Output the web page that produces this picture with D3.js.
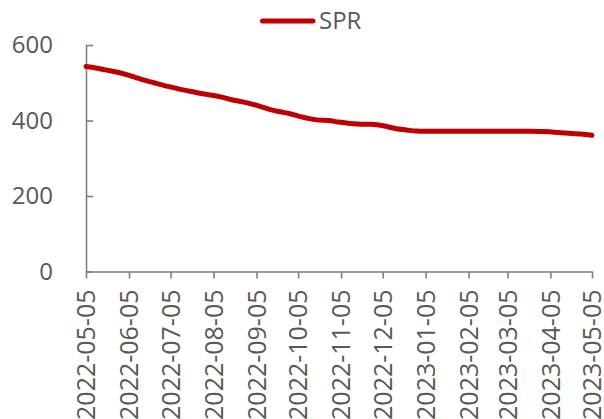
<!DOCTYPE html>
<html>
<head>
<meta charset="utf-8">
<script src="https://cdn.jsdelivr.net/npm/d3@7"></script>
<style>
  html, body { margin: 0; padding: 0; background: #fff; }
  svg { display: block; }
  svg text { font-family: "Open Sans", "Noto Sans", sans-serif; }
</style>
</head>
<body>
<svg id="chart" width="604" height="419"></svg>
<script>
// US Strategic Petroleum Reserve stock (million barrels), weekly
const seriesName = "SPR";
const dates = [
  "2022-05-05","2022-05-12","2022-05-19","2022-05-26","2022-06-02","2022-06-09","2022-06-16","2022-06-23","2022-06-30",
  "2022-07-07","2022-07-14","2022-07-21","2022-07-28","2022-08-04","2022-08-11","2022-08-18","2022-08-25",
  "2022-09-01","2022-09-08","2022-09-15","2022-09-22","2022-09-29","2022-10-06","2022-10-13","2022-10-20","2022-10-27",
  "2022-11-03","2022-11-10","2022-11-17","2022-11-24","2022-12-01","2022-12-08","2022-12-15","2022-12-22","2022-12-29",
  "2023-01-05","2023-01-12","2023-01-19","2023-01-26","2023-02-02","2023-02-09","2023-02-16","2023-02-23",
  "2023-03-02","2023-03-09","2023-03-16","2023-03-23","2023-03-30","2023-04-06","2023-04-13","2023-04-20","2023-04-27","2023-05-05"
];
const sprValues = [
  543, 539, 534, 529, 523, 515, 507, 500, 493,
  487, 481, 476, 471, 467, 462, 455, 450,
  444, 437, 429, 423, 418, 411, 405, 401, 400,
  396, 393, 391, 390, 389, 384, 378, 375, 372,
  371.5, 371.5, 371.5, 371.5, 371.5, 371.6, 371.6, 371.6,
  371.6, 371.6, 371.6, 371.2, 371.0, 369.5, 367.5, 365.5, 364, 361
];
const xTickLabels = [
  "2022-05-05","2022-06-05","2022-07-05","2022-08-05","2022-09-05","2022-10-05","2022-11-05",
  "2022-12-05","2023-01-05","2023-02-05","2023-03-05","2023-04-05","2023-05-05"
];
const yTicks = [0, 200, 400, 600];

const parse = d3.timeParse("%Y-%m-%d");
const fmt = d3.timeFormat("%Y-%m-%d");
const data = dates.map((d, i) => ({ date: parse(d), value: sprValues[i] }));

const svg = d3.select("#chart");
const margin = { left: 86, right: 12, top: 45, bottom: 147.5 };
const W = 604, H = 419;

const x = d3.scaleTime()
  .domain([parse(xTickLabels[0]), parse(xTickLabels[xTickLabels.length - 1])])
  .range([margin.left, W - margin.right]);
const y = d3.scaleLinear()
  .domain([0, 600])
  .range([H - margin.bottom, margin.top]);

const axisColor = "#7f7f7f";
const textColor = "#595959";

// y axis, ticks pointing into the plot
const gy = svg.append("g")
  .attr("transform", `translate(${margin.left},0)`)
  .call(d3.axisLeft(y).tickValues(yTicks).tickSizeInner(-7).tickSizeOuter(0).tickPadding(33))
  .attr("font-family", null)
  .attr("font-size", null);
gy.selectAll("text").attr("fill", textColor).style("font-size", "24px");

// x axis with rotated month labels
const gx = svg.append("g")
  .attr("transform", `translate(0,${y(0)})`)
  .call(d3.axisBottom(x).tickValues(xTickLabels.map(parse)).tickFormat(fmt).tickSizeInner(7).tickSizeOuter(0))
  .attr("font-family", null)
  .attr("font-size", null);
gx.selectAll("text")
  .attr("fill", textColor)
  .style("font-size", "25px")
  .attr("text-anchor", "end")
  .attr("transform", "rotate(-90)")
  .attr("x", -18)
  .attr("y", 0)
  .attr("dy", "0.35em");

svg.selectAll(".domain, .tick line")
  .attr("stroke", axisColor)
  .attr("stroke-width", 1.6);

// series line
const line = d3.line()
  .x(d => x(d.date))
  .y(d => y(d.value))
  .curve(d3.curveMonotoneX);

svg.append("path")
  .datum(data)
  .attr("fill", "none")
  .attr("stroke", "#C00000")
  .attr("stroke-width", 5)
  .attr("stroke-linejoin", "round")
  .attr("stroke-linecap", "round")
  .attr("d", line);

// legend
const lg = svg.append("g");
lg.append("line")
  .attr("x1", 262.5).attr("x2", 313)
  .attr("y1", 21).attr("y2", 21)
  .attr("stroke", "#C00000")
  .attr("stroke-width", 5)
  .attr("stroke-linecap", "round");
lg.append("text")
  .attr("x", 319).attr("y", 29.3)
  .attr("fill", textColor)
  .style("font-size", "24px")
  .text(seriesName);
</script>
</body>
</html>
